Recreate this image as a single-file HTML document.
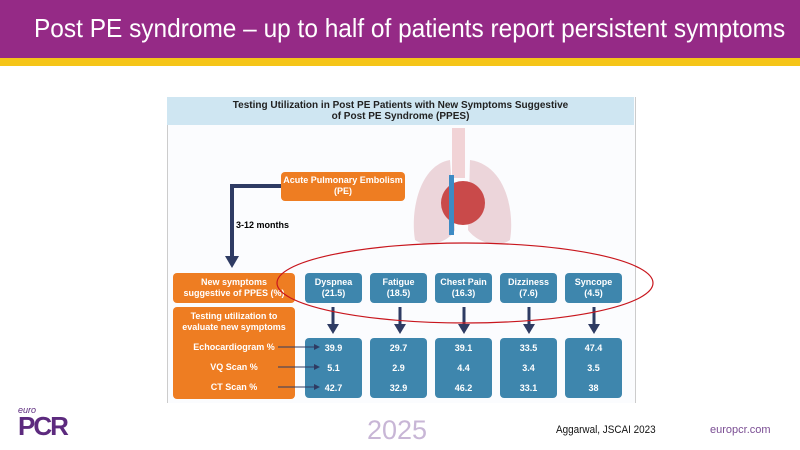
<!DOCTYPE html>
<html><head><meta charset="utf-8"><style>
body{margin:0;width:800px;height:450px;overflow:hidden;background:#fff;font-family:"Liberation Sans",sans-serif;position:relative}
.a{position:absolute}
.or{background:#ee7d22;color:#fff;border-radius:4px;font-weight:bold;font-size:9px;text-align:center;line-height:11px}
.bl{background:#3e86ad;color:#fff;border-radius:4px;font-weight:bold;font-size:9px;text-align:center;line-height:11px}
</style></head><body>
<div class="a" style="left:0;top:0;width:800px;height:58px;background:#952a86"></div>
<div class="a" style="left:0;top:58px;width:800px;height:8px;background:#f5c518"></div>
<div class="a" style="left:34px;top:13px;color:#fff;font-size:26px;white-space:nowrap;transform:scaleX(0.94);transform-origin:left">Post PE syndrome – up to half of patients report persistent symptoms</div>

<div class="a" style="left:167px;top:97px;width:467px;height:306px;background:#fbfcfe;border-left:1px solid #ccc;border-right:1px solid #ccc"></div>
<div class="a" style="left:167px;top:97px;width:467px;height:28px;background:#cfe6f2;text-align:center;font-weight:bold;font-size:10px;line-height:11px;padding-top:3px;box-sizing:border-box;color:#222">Testing Utilization in Post PE Patients with New Symptoms Suggestive<br>of Post PE Syndrome (PPES)</div>

<svg class="a" style="left:0;top:0" width="800" height="450">
<g>
<rect x="452" y="128" width="13" height="50" fill="#f1d3d6"/>
<path d="M450 160 C420 165 410 210 415 240 C430 250 450 240 455 230 Z" fill="#ecd5da"/>
<path d="M470 160 C505 165 515 210 510 240 C495 250 475 240 468 230 Z" fill="#ecd5da"/>
<ellipse cx="463" cy="203" rx="22" ry="22" fill="#c94a4a"/>
<rect x="449" y="175" width="5" height="60" fill="#3d8bc4"/>
</g>
<path d="M281 186 H232 V258" fill="none" stroke="#2e3b63" stroke-width="4"/>
<polygon points="225,256 239,256 232,268" fill="#2e3b63"/>
<g stroke="#2e3b63" stroke-width="3" fill="#2e3b63">
<line x1="333" y1="307" x2="333" y2="326"/><polygon points="327,324 339,324 333,334" stroke="none"/>
<line x1="400" y1="307" x2="400" y2="326"/><polygon points="394,324 406,324 400,334" stroke="none"/>
<line x1="464" y1="307" x2="464" y2="326"/><polygon points="458,324 470,324 464,334" stroke="none"/>
<line x1="529" y1="307" x2="529" y2="326"/><polygon points="523,324 535,324 529,334" stroke="none"/>
<line x1="594" y1="307" x2="594" y2="326"/><polygon points="588,324 600,324 594,334" stroke="none"/>
</g>
</svg>
<div class="a or" style="left:281px;top:172px;width:124px;height:29px;padding-top:3px;box-sizing:border-box">Acute Pulmonary Embolism<br>(PE)</div>
<div class="a" style="left:236px;top:220px;font-size:9px;font-weight:bold">3-12 months</div>
<div class="a or" style="left:173px;top:273px;width:122px;height:30px;padding-top:4px;box-sizing:border-box">New symptoms<br>suggestive of PPES (%)</div>
<div class="a or" style="left:173px;top:307px;width:122px;height:92px;padding-top:4px;box-sizing:border-box">Testing utilization to<br>evaluate new symptoms
<div style="margin-top:4px;line-height:20px">Echocardiogram %<br>VQ Scan %<br>CT Scan %</div></div>
<div id="cols"></div>
<svg class="a" style="left:0;top:0;pointer-events:none" width="800" height="450">
<g stroke="#2e3b63" stroke-width="1" fill="#2e3b63">
<line x1="278" y1="347" x2="318" y2="347"/><polygon points="314,344 320,347 314,350" stroke="none"/>
<line x1="278" y1="367" x2="318" y2="367"/><polygon points="314,364 320,367 314,370" stroke="none"/>
<line x1="278" y1="387" x2="318" y2="387"/><polygon points="314,384 320,387 314,390" stroke="none"/>
</g>
<ellipse cx="465" cy="283" rx="188" ry="40" fill="none" stroke="#c8161d" stroke-width="1.2"/></svg>

<div class="a" style="left:18px;top:405px;color:#5c2a7e"><div style="font-size:9px;font-style:italic">euro</div><div style="font-size:26px;font-weight:bold;line-height:22px;letter-spacing:-2px">PCR</div></div>
<div class="a" style="left:367px;top:415px;font-size:27px;color:#c8b6d6">2025</div>
<div class="a" style="left:556px;top:424px;font-size:11px;color:#111;transform:scaleX(0.9);transform-origin:left">Aggarwal, JSCAI 2023</div>
<div class="a" style="left:710px;top:424px;font-size:11px;color:#7a4d93">europcr.com</div>
<script>
const symptoms=["Dyspnea","Fatigue","Chest Pain","Dizziness","Syncope"];
const prevalence=["21.5","18.5","16.3","7.6","4.5"];
const echo=["39.9","29.7","39.1","33.5","47.4"];
const vq=["5.1","2.9","4.4","3.4","3.5"];
const ct=["42.7","32.9","46.2","33.1","38"];
const c=document.getElementById('cols');
symptoms.forEach((s,i)=>{
 const x=305+i*65;
 const a=document.createElement('div');a.className='a bl';
 
 
 a.style.cssText=`left:${x}px;top:273px;width:57px;height:30px;padding-top:4px;box-sizing:border-box`;
 a.innerHTML=`${s}<br>(${prevalence[i]})`;c.appendChild(a);
 const b=document.createElement('div');b.className='a bl';
 
 
 b.style.cssText=`left:${x}px;top:338px;width:57px;height:60px;line-height:20px`;
 b.innerHTML=`${echo[i]}<br>${vq[i]}<br>${ct[i]}`;c.appendChild(b);
});
</script>
</body></html>
